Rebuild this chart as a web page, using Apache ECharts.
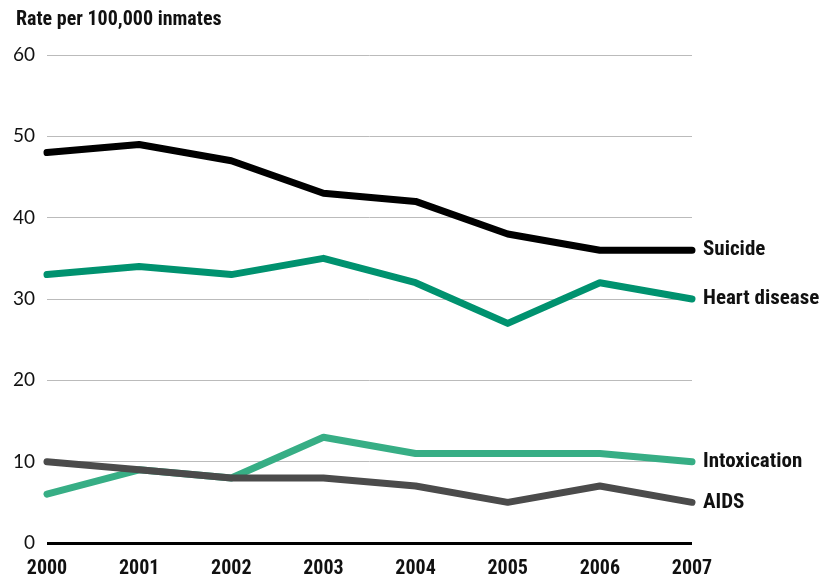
<!DOCTYPE html>
<html><head><meta charset="utf-8">
<script src="https://cdn.jsdelivr.net/npm/echarts@6/dist/echarts.min.js"></script>
<style>html,body{margin:0;padding:0;background:#fff}#c{width:840px;height:579px}</style>
</head><body><div id="c"></div>
<script>
const years = ['2000','2001','2002','2003','2004','2005','2006','2007'];
const suicide = [48, 49, 47, 43, 42, 38, 36, 36];
const heart = [33, 34, 33, 35, 32, 27, 32, 30];
const intoxication = [6, 9, 8, 13, 11, 11, 11, 10];
const aids = [10, 9, 8, 8, 7, 5, 7, 5];
const yTicks = [0, 10, 20, 30, 40, 50, 60];

const F = "'Liberation Sans Narrow', 'Roboto Condensed', 'Liberation Sans', sans-serif";
function mk(name, data, color, z, offY) {
  return {
    name, type: 'line', data, z,
    symbol: 'none', smooth: false,
    lineStyle: { color, width: 7, cap: 'round', join: 'round' },
    endLabel: { show: true, formatter: name, color: '#111', fontFamily: F, fontSize: 21, fontWeight: 'bold', offset: [3, offY] },
    emphasis: { disabled: true }, animation: false
  };
}
const chart = echarts.init(document.getElementById('c'));
chart.setOption({
  animation: false,
  title: { text: 'Rate per 100,000 inmates', left: 11, top: 5,
    textStyle: { fontFamily: F, fontWeight: 'bold', fontSize: 20, color: '#111' } },
  grid: { left: 47, right: 148, top: 55, bottom: 34 },
  xAxis: { type: 'category', data: years, boundaryGap: false,
    axisLine: { show: false }, axisTick: { show: false },
    axisLabel: { fontFamily: F, fontWeight: 'bold', fontSize: 20, color: '#111', margin: 16 } },
  yAxis: { type: 'value', min: 0, max: 60, interval: 10,
    axisLine: { show: false }, axisTick: { show: false },
    axisLabel: { fontFamily: "'Lato', sans-serif", fontSize: 19, color: '#111', margin: 12,
      formatter: v => yTicks.includes(v) ? String(v) : '' },
    splitLine: { lineStyle: { color: '#bbbbbb', width: 1 } } },
  series: [
    mk('Suicide', suicide, '#000000', 5, 0),
    mk('Heart disease', heart, '#00926f', 4, 0),
    mk('Intoxication', intoxication, '#37ae85', 2, 0),
    mk('AIDS', aids, '#4b4b4b', 3, 0),
    { type: 'line', data: [], markLine: { silent: true, symbol: 'none', label: { show: false },
        lineStyle: { color: '#000', width: 3, type: 'solid' }, data: [{ yAxis: 0 }] }, z: 6 }
  ]
});
</script></body></html>
